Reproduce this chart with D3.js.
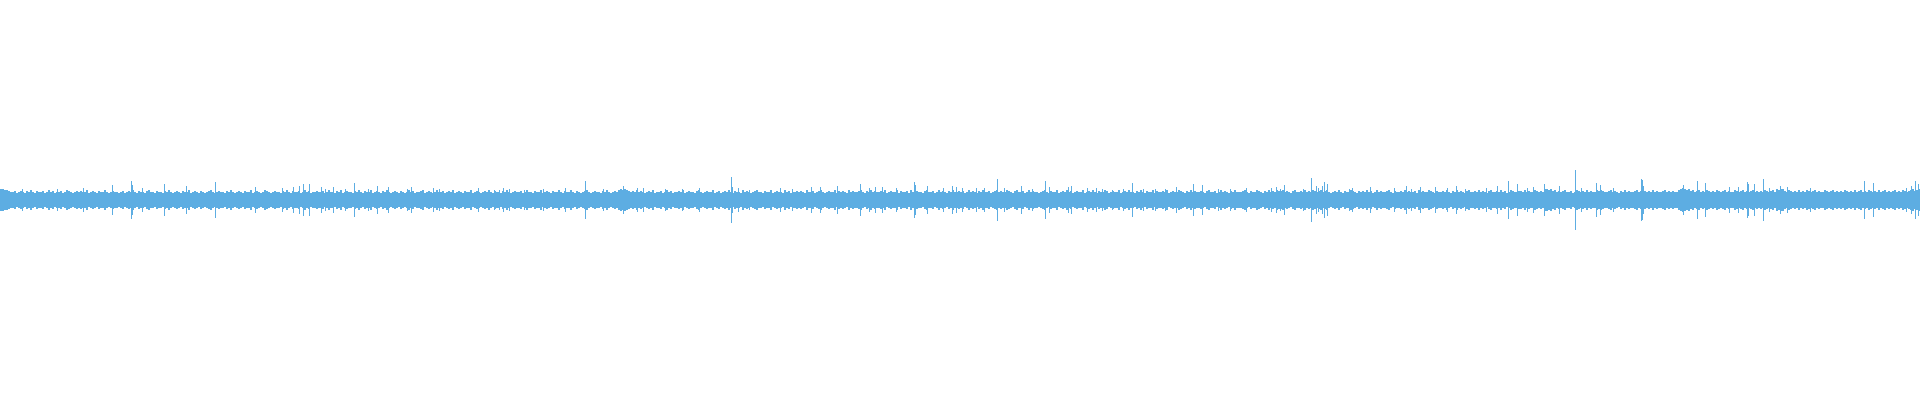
<!DOCTYPE html>
<html>
<head>
<meta charset="utf-8">
<script src="https://cdn.jsdelivr.net/npm/d3@7"></script>
<style>
html,body{margin:0;padding:0;background:#fff;}
svg{display:block;}
</style>
</head>
<body>
<svg id="chart" width="1920" height="400"></svg>
<script>
// Base envelope: one amplitude per 2-sample bin (1920 samples total)
const binSize = 2;
const binAmp = [
11,11,10,10,9,8,8,9,7,8,9,8,7,9,8,10,8,7,9,8,
8,9,7,8,10,8,9,7,8,8,9,7,8,10,9,8,7,8,9,8,
9,8,8,10,7,8,9,8,7,9,8,8,10,8,7,8,9,8,8,7,
8,9,7,8,9,8,10,8,7,9,8,8,7,9,10,8,8,7,9,8,
8,7,9,8,10,8,7,8,9,8,7,9,8,8,10,7,8,9,8,7,
9,8,7,8,9,10,8,7,8,9,8,8,7,9,8,10,8,7,8,9,
8,7,9,8,8,10,7,8,9,8,7,8,10,9,8,7,8,9,8,8,
7,9,8,10,8,7,9,8,8,9,7,8,10,8,9,7,8,8,9,8,
8,9,7,8,10,8,8,7,9,8,10,7,8,9,8,8,7,9,8,10,
8,7,9,8,8,10,7,8,9,8,7,9,8,10,8,7,8,9,8,7,
9,8,7,8,10,8,9,7,8,8,9,10,7,8,9,8,7,8,10,8,
8,9,7,8,9,8,10,7,8,9,8,7,9,8,8,10,7,8,9,8,
7,8,9,8,10,8,7,9,8,8,7,9,8,10,8,7,8,9,8,8,
9,7,8,10,8,8,7,9,8,8,10,7,8,9,8,7,9,8,8,10,
8,7,9,8,8,10,8,7,9,8,7,8,9,10,8,7,8,9,8,8,
7,9,8,10,8,7,8,9,8,10,11,10,11,10,9,8,9,8,10,8,
9,8,7,8,9,8,10,7,8,8,9,7,8,10,8,9,7,8,8,9,
8,10,7,8,9,8,8,7,9,10,8,7,8,9,8,8,10,7,8,9,
7,8,9,8,10,8,7,9,8,8,7,10,8,9,8,7,8,9,10,8,
8,7,9,8,8,10,7,8,9,8,8,7,10,8,9,7,8,8,9,8,
9,8,7,10,8,8,9,7,8,9,10,8,7,8,9,8,8,10,7,9,
8,9,8,7,10,8,9,8,8,9,10,8,7,9,8,10,8,9,8,8,
9,8,10,7,8,9,8,8,10,7,9,8,8,9,7,10,8,8,9,8,
8,7,9,10,8,8,9,7,8,10,8,9,8,7,9,8,10,8,8,9,
8,9,7,8,10,8,9,8,7,9,8,10,8,8,9,7,8,9,10,8,
9,8,8,10,9,8,7,9,10,8,8,9,7,8,10,8,9,8,8,7,
8,9,10,8,7,9,8,8,10,7,8,9,8,10,8,9,7,8,9,8,
8,10,7,8,9,8,10,8,7,9,8,8,10,9,7,8,9,8,8,10,
7,8,9,8,10,8,8,7,9,8,10,8,7,9,8,8,10,7,9,8,
8,9,8,10,7,8,9,8,8,10,9,8,7,9,8,10,8,9,8,8,
9,8,7,9,10,8,8,9,7,8,10,8,9,8,7,9,8,10,8,8,
8,9,10,8,7,9,8,8,10,9,8,7,9,8,10,8,9,8,10,9,
9,10,8,9,8,7,9,10,8,8,9,8,10,8,9,8,10,9,8,9,
10,8,9,10,8,7,8,9,8,10,8,7,9,8,8,10,9,8,7,9,
8,9,8,10,8,9,7,8,10,8,9,8,8,9,10,8,7,9,8,8,
9,8,10,8,9,8,8,9,7,10,8,9,8,8,10,9,8,7,9,8,
8,9,8,10,8,7,9,8,10,8,9,8,7,9,10,8,8,9,8,10,
8,9,8,7,9,10,8,8,9,8,10,8,9,7,8,10,9,8,8,9,
9,8,10,8,9,8,8,10,9,8,9,8,11,11,10,11,9,10,8,9,
8,9,10,8,8,9,7,8,10,9,8,9,8,10,8,9,8,8,10,9,
10,9,8,8,9,10,8,9,8,7,9,8,10,8,9,8,8,9,10,8,
9,10,9,8,9,8,10,8,9,8,8,9,10,8,9,8,9,8,8,10,
11,12,11,10,11,9,10,8,9,10,8,9,8,10,9,8,9,8,10,9,
8,9,10,8,9,8,8,10,9,8,9,10,8,9,8,9,10,8,9,8,
9,8,10,9,8,9,10,8,11,10,11,11,9,8,10,9,8,9,8,10,
8,9,8,10,9,8,9,10,8,9,8,8,10,9,8,9,10,8,9,8,
9,8,10,9,8,9,8,10,8,9,10,8,9,8,10,9,8,9,8,10,
8,9,10,8,9,8,9,10,8,9,8,10,9,8,9,10,11,9,10,11
];

// Individual peaks: sample index and amplitude
const spikeX = [
22,57,83,112,131,132,142,164,186,215,255,282,293,299,
303,309,321,325,333,345,354,368,377,388,407,411,433,439,478,494,499,
503,509,524,543,565,585,603,623,637,643,665,682,699,
713,731,732,738,749,780,792,811,820,837,860,869,875,882,896,914,915,927,943,952,956,962,976,984,997,
1004,1016,1021,1032,1045,1049,1068,1071,1087,1096,1102,1112,1123,1132,1143,1155,1165,1176,1193,1202,1218,1230,1246,
1257,1271,1276,1280,1284,1303,1311,1316,1318,1322,1324,1327,1349,1352,1370,1394,1406,1411,1420,1435,1447,1456,1465,1486,1497,
1508,1517,1527,1533,1544,1559,1575,1581,1596,1600,1613,1641,1642,1643,1683,1697,1705,1729,1738,1747,1748,1754,1763,1769,1780,1787,1810,1864,1873,1906,1911,1915,1918
];
const spikeAmp = [
11,11,12,15,19,15,12,16,14,18,13,12,13,14,
16,16,13,11,13,11,17,11,14,13,11,13,12,11,12,10,10,
12,11,10,11,12,19,11,14,12,12,11,11,12,
10,23,13,12,10,12,11,13,13,14,16,12,13,13,12,18,15,14,12,14,13,12,12,12,21,
12,10,14,11,19,13,13,14,12,12,11,10,11,17,11,11,11,13,16,15,11,11,12,
10,12,13,11,15,11,22,14,12,14,18,16,11,12,13,12,14,11,13,13,12,14,11,12,14,
19,16,12,13,16,14,30,12,17,15,12,21,20,14,15,19,17,13,13,18,16,16,21,12,14,13,12,19,17,12,14,19,16
];

const W = 1920, H = 400;
const color = "#5DADE2";
const svg = d3.select("#chart");

const x = d3.scaleLinear().domain([0, 1920]).range([0, W]);
const y = d3.scaleLinear().domain([-200, 200]).range([H, 0]);

const g = svg.append("g").attr("shape-rendering", "crispEdges").attr("fill", color);

g.selectAll("rect.bin")
  .data(binAmp)
  .join("rect")
  .attr("class", "bin")
  .attr("x", (d, i) => x(i * binSize))
  .attr("width", x(binSize) - x(0))
  .attr("y", d => y(d))
  .attr("height", d => y(-d) - y(d));

const spikes = spikeX.map((s, i) => ({s, a: spikeAmp[i]}));
g.selectAll("rect.spike")
  .data(spikes)
  .join("rect")
  .attr("class", "spike")
  .attr("x", d => x(d.s))
  .attr("width", x(1) - x(0))
  .attr("y", d => y(d.a))
  .attr("height", d => y(-d.a) - y(d.a));
</script>
</body>
</html>
